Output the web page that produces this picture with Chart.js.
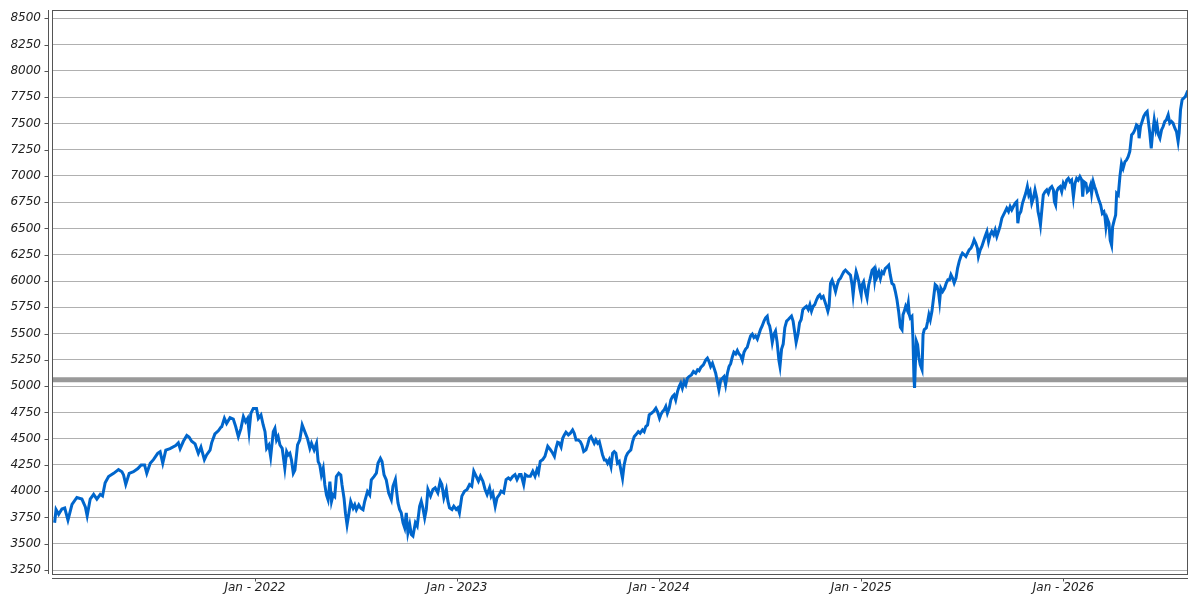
<!DOCTYPE html>
<html>
<head>
<meta charset="UTF-8">
<title>Index history</title>
<script src="https://cdn.jsdelivr.net/npm/chart.js"></script>
<style>
  html, body { margin: 0; padding: 0; background: #ffffff; }
</style>
</head>
<body>
<canvas id="chart" width="1200" height="600"></canvas>
<script>
// dates as decimal years, closes
const dates = [
  // 2021
  2021.009, 2021.016, 2021.029, 2021.045, 2021.059, 2021.075, 2021.095, 2021.119, 2021.144, 2021.161,
  2021.170, 2021.185, 2021.202, 2021.218, 2021.235, 2021.246, 2021.259, 2021.276, 2021.301, 2021.325,
  2021.342, 2021.350, 2021.361, 2021.378, 2021.399, 2021.421, 2021.437, 2021.454, 2021.465, 2021.482,
  2021.498, 2021.519, 2021.531, 2021.544, 2021.559, 2021.580, 2021.608, 2021.621, 2021.630, 2021.646,
  2021.663, 2021.674, 2021.687, 2021.704, 2021.720, 2021.733, 2021.750, 2021.761, 2021.778, 2021.786,
  2021.802, 2021.819, 2021.832, 2021.836, 2021.849, 2021.860, 2021.877, 2021.893, 2021.905, 2021.918,
  2021.931, 2021.943, 2021.954, 2021.964, 2021.971, 2021.980, 2021.992,
  // 2022
  2022.008, 2022.017, 2022.030, 2022.041, 2022.050, 2022.058, 2022.069, 2022.078, 2022.091, 2022.099,
  2022.107, 2022.115, 2022.124, 2022.135, 2022.148, 2022.157, 2022.165, 2022.173, 2022.181, 2022.190,
  2022.198, 2022.211, 2022.222, 2022.234, 2022.247, 2022.260, 2022.272, 2022.280, 2022.293, 2022.305,
  2022.313, 2022.321, 2022.329, 2022.338, 2022.346, 2022.354, 2022.362, 2022.371, 2022.379, 2022.387,
  2022.395, 2022.403, 2022.415, 2022.425, 2022.431, 2022.441, 2022.448, 2022.456, 2022.464, 2022.474,
  2022.486, 2022.494, 2022.502, 2022.514, 2022.524, 2022.535, 2022.543, 2022.557, 2022.568, 2022.576,
  2022.589, 2022.601, 2022.609, 2022.621, 2022.629, 2022.639, 2022.650, 2022.662, 2022.675, 2022.683,
  2022.695, 2022.700, 2022.708, 2022.716, 2022.724, 2022.733, 2022.741, 2022.749, 2022.757, 2022.766,
  2022.774, 2022.782, 2022.794, 2022.803, 2022.815, 2022.823, 2022.831, 2022.840, 2022.848, 2022.856,
  2022.869, 2022.881, 2022.892, 2022.905, 2022.917, 2022.925, 2022.935, 2022.947, 2022.955, 2022.963,
  2022.975, 2022.984, 2022.996,
  // 2023
  2023.004, 2023.012, 2023.024, 2023.037, 2023.050, 2023.062, 2023.073, 2023.083, 2023.095, 2023.106,
  2023.116, 2023.128, 2023.139, 2023.149, 2023.161, 2023.169, 2023.177, 2023.189, 2023.198, 2023.210,
  2023.218, 2023.231, 2023.243, 2023.254, 2023.264, 2023.276, 2023.287, 2023.297, 2023.309, 2023.317,
  2023.330, 2023.338, 2023.350, 2023.363, 2023.375, 2023.386, 2023.396, 2023.403, 2023.412, 2023.424,
  2023.435, 2023.449, 2023.462, 2023.473, 2023.482, 2023.490, 2023.498, 2023.506, 2023.515, 2023.523,
  2023.531, 2023.539, 2023.551, 2023.561, 2023.572, 2023.580, 2023.589, 2023.600, 2023.610, 2023.618,
  2023.627, 2023.638, 2023.646, 2023.655, 2023.663, 2023.671, 2023.679, 2023.687, 2023.696, 2023.704,
  2023.712, 2023.720, 2023.729, 2023.737, 2023.745, 2023.753, 2023.762, 2023.770, 2023.778, 2023.786,
  2023.794, 2023.803, 2023.811, 2023.819, 2023.827, 2023.836, 2023.844, 2023.852, 2023.860, 2023.869,
  2023.877, 2023.885, 2023.897, 2023.906, 2023.918, 2023.926, 2023.934, 2023.943, 2023.951, 2023.962,
  2023.972, 2023.984, 2023.992,
  // 2024
  2024.002, 2024.008, 2024.017, 2024.025, 2024.033, 2024.041, 2024.050, 2024.058, 2024.066, 2024.074,
  2024.082, 2024.091, 2024.099, 2024.107, 2024.115, 2024.124, 2024.132, 2024.140, 2024.148, 2024.160,
  2024.170, 2024.181, 2024.190, 2024.198, 2024.206, 2024.219, 2024.231, 2024.239, 2024.247, 2024.255,
  2024.264, 2024.272, 2024.280, 2024.288, 2024.296, 2024.305, 2024.313, 2024.321, 2024.329, 2024.338,
  2024.346, 2024.354, 2024.362, 2024.370, 2024.379, 2024.387, 2024.395, 2024.403, 2024.412, 2024.420,
  2024.428, 2024.436, 2024.445, 2024.453, 2024.461, 2024.469, 2024.477, 2024.486, 2024.494, 2024.502,
  2024.510, 2024.519, 2024.527, 2024.535, 2024.540, 2024.547, 2024.552, 2024.560, 2024.568, 2024.576,
  2024.584, 2024.593, 2024.598, 2024.606, 2024.614, 2024.622, 2024.631, 2024.639, 2024.647, 2024.655,
  2024.663, 2024.670, 2024.678, 2024.687, 2024.695, 2024.703, 2024.711, 2024.719, 2024.729, 2024.738,
  2024.746, 2024.754, 2024.762, 2024.770, 2024.779, 2024.787, 2024.795, 2024.803, 2024.812, 2024.820,
  2024.828, 2024.835, 2024.841, 2024.848, 2024.856, 2024.864, 2024.873, 2024.881, 2024.889, 2024.897,
  2024.905, 2024.914, 2024.922, 2024.930, 2024.938, 2024.947, 2024.955, 2024.960, 2024.966, 2024.975,
  2024.980, 2024.988, 2024.993,
  // 2025
  2025.000, 2025.004, 2025.012, 2025.021, 2025.029, 2025.037, 2025.045, 2025.054, 2025.062, 2025.067,
  2025.073, 2025.078, 2025.087, 2025.095, 2025.103, 2025.111, 2025.119, 2025.128, 2025.136, 2025.144,
  2025.152, 2025.161, 2025.169, 2025.177, 2025.185, 2025.194, 2025.202, 2025.207, 2025.213, 2025.220,
  2025.227, 2025.233, 2025.238, 2025.243, 2025.251, 2025.256, 2025.261, 2025.264, 2025.268, 2025.273,
  2025.279, 2025.286, 2025.292, 2025.301, 2025.306, 2025.312, 2025.322, 2025.329, 2025.335, 2025.342,
  2025.350, 2025.358, 2025.366, 2025.375, 2025.383, 2025.388, 2025.394, 2025.403, 2025.413, 2025.421,
  2025.429, 2025.437, 2025.444, 2025.452, 2025.460, 2025.469, 2025.477, 2025.485, 2025.493, 2025.501,
  2025.510, 2025.518, 2025.526, 2025.534, 2025.543, 2025.551, 2025.559, 2025.567, 2025.575, 2025.580,
  2025.589, 2025.597, 2025.605, 2025.613, 2025.622, 2025.630, 2025.638, 2025.646, 2025.655, 2025.663,
  2025.671, 2025.679, 2025.687, 2025.696, 2025.704, 2025.712, 2025.720, 2025.729, 2025.737, 2025.745,
  2025.753, 2025.762, 2025.770, 2025.775, 2025.781, 2025.790, 2025.798, 2025.806, 2025.814, 2025.822,
  2025.829, 2025.836, 2025.844, 2025.852, 2025.860, 2025.869, 2025.875, 2025.882, 2025.887, 2025.893,
  2025.901, 2025.910, 2025.918, 2025.926, 2025.934, 2025.943, 2025.951, 2025.956, 2025.962, 2025.967,
  2025.975, 2025.984, 2025.992,
  // 2026
  2026.000, 2026.008, 2026.017, 2026.025, 2026.033, 2026.041, 2026.050, 2026.058, 2026.066, 2026.074,
  2026.082, 2026.091, 2026.096, 2026.102, 2026.112, 2026.119, 2026.127, 2026.135, 2026.140, 2026.148,
  2026.155, 2026.161, 2026.168, 2026.176, 2026.185, 2026.193, 2026.201, 2026.206, 2026.211, 2026.217,
  2026.226, 2026.232, 2026.239, 2026.244, 2026.252, 2026.259, 2026.264, 2026.272, 2026.280, 2026.288,
  2026.296, 2026.305, 2026.313, 2026.321, 2026.329, 2026.338, 2026.346, 2026.354, 2026.362, 2026.371,
  2026.375, 2026.382, 2026.390, 2026.398, 2026.407, 2026.415, 2026.422, 2026.428, 2026.435, 2026.441,
  2026.450, 2026.458, 2026.464, 2026.471, 2026.478, 2026.486, 2026.494, 2026.502, 2026.510, 2026.519,
  2026.527, 2026.535, 2026.543, 2026.552, 2026.560, 2026.568, 2026.573, 2026.580, 2026.588, 2026.596,
  2026.604, 2026.611, 2026.616
];

const closes = [
  // 2021
  3700, 3825, 3780, 3830, 3840, 3725, 3875, 3940, 3925, 3850,
  3765, 3925, 3970, 3925, 3970, 3955, 4080, 4140, 4170, 4205,
  4185, 4155, 4065, 4170, 4185, 4215, 4250, 4250, 4170, 4265,
  4300, 4360, 4375, 4265, 4390, 4405, 4435, 4460, 4405, 4475,
  4530, 4515, 4475, 4450, 4360, 4420, 4300, 4345, 4390, 4460,
  4545, 4575, 4610, 4614, 4693, 4645, 4700, 4687, 4614, 4519,
  4598, 4709, 4661, 4693, 4566, 4740, 4788,
  // 2022
  4788, 4693, 4725, 4630, 4566, 4408, 4440, 4329, 4566, 4598,
  4487, 4519, 4440, 4408, 4218, 4377, 4345, 4361, 4297, 4171,
  4202, 4440, 4487, 4630, 4566, 4503, 4408, 4456, 4392, 4456,
  4282, 4250, 4155, 4218, 4060, 3965, 3918, 4092, 3902, 3965,
  3949, 4139, 4171, 4155, 4060, 3933, 3791, 3680, 3775, 3902,
  3838, 3870, 3823, 3870, 3838, 3823, 3902, 3997, 3965, 4107,
  4139, 4171, 4266, 4313, 4282, 4155, 4107, 3981, 3918, 4047,
  4111, 4016, 3889, 3826, 3794, 3699, 3652, 3794, 3604, 3683,
  3588, 3573, 3699, 3668, 3857, 3905, 3842, 3747, 3826, 4016,
  3953, 4016, 4032, 3984, 4095, 4063, 3937, 4016, 3905, 3842,
  3826, 3857, 3826,
  // 2023
  3842, 3794, 3953, 4000, 4016, 4063, 4047, 4190, 4142, 4095,
  4142, 4095, 4016, 3968, 4032, 3953, 3984, 3857, 3937, 3968,
  4000, 3984, 4111, 4127, 4111, 4142, 4158, 4111, 4158, 4158,
  4063, 4158, 4142, 4142, 4190, 4142, 4206, 4174, 4285, 4301,
  4332, 4427, 4396, 4364, 4332, 4411, 4465, 4459, 4420, 4504,
  4536, 4561, 4536, 4552, 4583, 4552, 4488, 4488, 4472, 4440,
  4377, 4393, 4440, 4504, 4520, 4488, 4456, 4488, 4456, 4472,
  4409, 4345, 4298, 4298, 4266, 4298, 4234, 4361, 4377, 4361,
  4266, 4282, 4202, 4123, 4250, 4329, 4361, 4377, 4393, 4472,
  4520, 4536, 4567, 4552, 4583, 4567, 4615, 4631, 4726, 4742,
  4758, 4790, 4758,
  // 2024
  4694, 4726, 4758, 4774, 4806, 4742, 4790, 4869, 4901, 4917,
  4869, 4948, 4996, 5028, 4980, 5044, 5012, 5075, 5091, 5107,
  5139, 5123, 5155, 5145, 5177, 5202, 5250, 5266, 5234, 5186,
  5218, 5171, 5123, 5044, 4964, 5059, 5075, 5091, 5012, 5123,
  5186, 5213, 5275, 5322, 5306, 5338, 5306, 5291, 5244, 5322,
  5353, 5369, 5431, 5478, 5494, 5463, 5478, 5447, 5494, 5541,
  5572, 5619, 5650, 5666, 5603, 5572, 5525, 5416, 5494, 5525,
  5416, 5244, 5188, 5353, 5400, 5556, 5619, 5634, 5650, 5666,
  5619, 5525, 5416, 5494, 5603, 5634, 5728, 5744, 5759, 5728,
  5775, 5713, 5759, 5775, 5822, 5853, 5869, 5838, 5853, 5806,
  5759, 5713, 5759, 5978, 6009, 5963, 5900, 5963, 6009, 6025,
  6056, 6088, 6103, 6088, 6072, 6056, 5963, 5869, 5978, 6088,
  6056, 5994, 5931,
  // 2025
  5869, 5963, 5994, 5900, 5838, 5963, 6025, 6103, 6119, 6009,
  6088, 6041, 6088, 6025, 6088, 6072, 6119, 6134, 6150, 6056,
  5978, 5963, 5900, 5822, 5713, 5560, 5537, 5680, 5711, 5759,
  5727, 5791, 5680, 5648, 5664, 5458, 5078, 4983, 5205, 5427,
  5395, 5268, 5205, 5157, 5490, 5537, 5553, 5617, 5680, 5632,
  5711, 5838, 5965, 5949, 5886, 5806, 5933, 5901, 5933, 5981,
  6012, 6012, 6060, 6028, 5981, 6028, 6123, 6187, 6234, 6265,
  6250, 6234, 6265, 6297, 6313, 6345, 6392, 6360, 6313, 6234,
  6297, 6329, 6376, 6424, 6471, 6376, 6440, 6471, 6440, 6487,
  6424, 6471, 6519, 6598, 6630, 6661, 6693, 6661, 6709, 6677,
  6709, 6740, 6756, 6550, 6630, 6661, 6740, 6788, 6835, 6899,
  6820, 6851, 6740, 6788, 6867, 6788, 6661, 6598, 6535, 6661,
  6820, 6851, 6867, 6835, 6883, 6899, 6867, 6756, 6725, 6851,
  6883, 6898, 6850,
  // 2026
  6930, 6898, 6961, 6977, 6945, 6961, 6802, 6930, 6977, 6961,
  6993, 6961, 6802, 6945, 6930, 6850, 6866, 6914, 6834, 6945,
  6898, 6866, 6818, 6771, 6723, 6643, 6659, 6612, 6516, 6596,
  6548, 6389, 6341, 6516, 6580, 6627, 6834, 6818, 6993, 7120,
  7073, 7136, 7152, 7184, 7232, 7391, 7407, 7438, 7486, 7470,
  7359, 7470, 7518, 7566, 7597, 7613, 7502, 7407, 7263, 7391,
  7534, 7438, 7486, 7391, 7359, 7438, 7470, 7518, 7534, 7581,
  7502, 7518, 7502, 7454, 7422, 7327, 7407, 7629, 7725, 7740,
  7756, 7788, 7772
];

const yearTicks = [2022, 2023, 2024, 2025, 2026];
const priceTicks = [3250, 3500, 3750, 4000, 4250, 4500, 4750, 5000, 5250, 5500, 5750,
                    6000, 6250, 6500, 6750, 7000, 7250, 7500, 7750, 8000, 8250, 8500];
const markerLevel = 5060;
const xRange = [2020.996, 2026.617];
const yRange = [3212, 8579];

const points = dates.map((t, i) => ({ x: t, y: closes[i] }));

const tickFont = { family: "'DejaVu Sans', sans-serif", size: 12, style: 'italic' };

// plot outline plus the detached axis lines with their small tick marks
const axisFrame = {
  id: 'axisFrame',
  afterDraw(chart) {
    const { ctx, chartArea: a, scales } = chart;
    ctx.save();
    ctx.strokeStyle = '#555';
    ctx.lineWidth = 1;
    ctx.strokeRect(a.left + 0.5, a.top + 0.5, a.right - a.left - 1, a.bottom - a.top);
    ctx.beginPath();
    const ax = a.left - 3.5;
    ctx.moveTo(ax, a.top);
    ctx.lineTo(ax, a.bottom);
    scales.y.ticks.forEach(t => {
      const p = Math.round(scales.y.getPixelForValue(t.value)) + 0.5;
      ctx.moveTo(ax - 4, p);
      ctx.lineTo(ax, p);
    });
    const ay = a.bottom + 4.5;
    ctx.moveTo(a.left, ay);
    ctx.lineTo(a.right, ay);
    scales.x.ticks.forEach(t => {
      const p = Math.round(scales.x.getPixelForValue(t.value)) + 0.5;
      ctx.moveTo(p, ay);
      ctx.lineTo(p, ay + 3);
    });
    ctx.stroke();
    ctx.restore();
  }
};

new Chart(document.getElementById('chart'), {
  type: 'line',
  data: {
    datasets: [
      {
        label: 'Close',
        data: points,
        borderColor: '#0066cc',
        borderWidth: 3,
        pointRadius: 0,
        tension: 0,
        fill: false,
        order: 1
      },
      {
        label: 'Marker',
        data: [{ x: xRange[0], y: markerLevel }, { x: xRange[1], y: markerLevel }],
        borderColor: '#999999',
        borderWidth: 5,
        pointRadius: 0,
        fill: false,
        order: 2
      }
    ]
  },
  options: {
    responsive: false,
    animation: false,
    devicePixelRatio: 1,
    layout: { padding: { top: 10, right: 12, left: 0, bottom: 0 } },
    plugins: { legend: { display: false }, tooltip: { enabled: false } },
    scales: {
      x: {
        type: 'linear',
        min: xRange[0],
        max: xRange[1],
        afterBuildTicks: s => { s.ticks = yearTicks.map(v => ({ value: v })); },
        afterFit: s => { s.height = 26; s.paddingLeft = 0; s.paddingRight = 0; },
        grid: { display: false, drawTicks: false },
        border: { display: false },
        ticks: { autoSkip: false, maxRotation: 0, padding: 7, color: '#222', font: tickFont,
                 callback: v => 'Jan - ' + v }
      },
      y: {
        type: 'linear',
        min: yRange[0],
        max: yRange[1],
        afterBuildTicks: s => { s.ticks = priceTicks.map(v => ({ value: v })); },
        afterFit: s => { s.width = 52; s.paddingTop = 0; s.paddingBottom = 0; },
        grid: { color: '#b0b0b0', lineWidth: 1, drawTicks: false },
        border: { display: false },
        ticks: { autoSkip: false, padding: 11, color: '#222', font: tickFont,
                 callback: v => String(v) }
      }
    }
  },
  plugins: [axisFrame]
});
</script>
</body>
</html>
